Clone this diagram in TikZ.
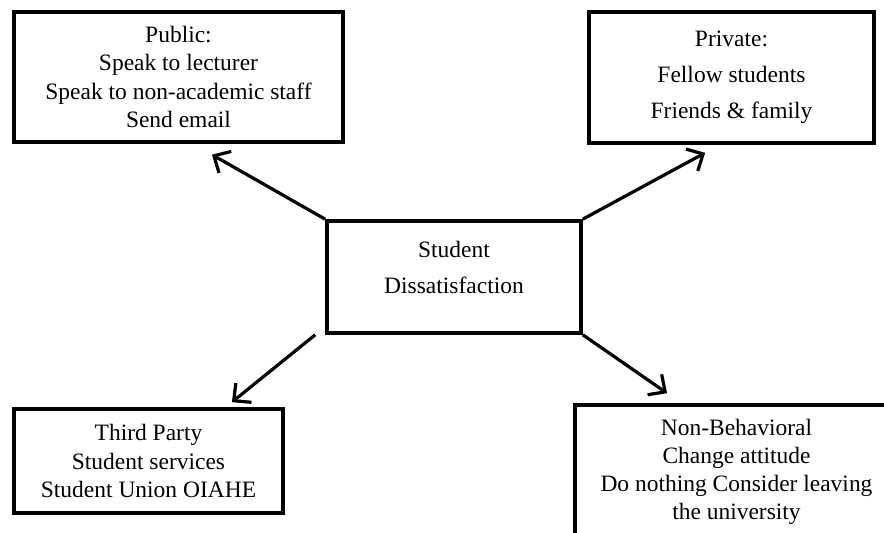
\documentclass[tikz,border=0pt]{standalone}
\usepackage{fontspec}
\setmainfont{Liberation Serif}
\usetikzlibrary{arrows.meta,positioning}

\tikzset{
  box/.style={draw,line width=0.09cm,align=center,inner sep=2pt},
  arr/.style={line width=0.08cm,-{Straight Barb[length=0.32cm,width=0.62cm]}},
}
\newcommand{\tightfont}{\fontsize{16.7}{20}\selectfont}
\newcommand{\loosefont}{\fontsize{16.7}{25.5}\selectfont}

\begin{document}
\begin{tikzpicture}
\useasboundingbox (0,0) rectangle (22.1,13.3);
\clip (0,0) rectangle (22.1,13.3);
\node[box,font=\loosefont,minimum width=6.35cm,minimum height=2.8cm,text depth=0.5cm] (dis) at (11.35,6.375) {Student\\Dissatisfaction};
\node[box,font=\tightfont,minimum width=8.225cm,minimum height=3.25cm] (pub) at (4.4625,11.375) {Public:\\Speak to lecturer\\Speak to non-academic staff\\Send email};
\node[box,font=\loosefont,minimum width=7.125cm,minimum height=3.275cm] (pri) at (18.2875,11.3625) {Private:\\Fellow students\\Friends \& family};
\node[box,font=\tightfont,minimum width=6.725cm,minimum height=2.6cm] (tp) at (3.7125,1.775) {Third Party\\Student services\\Student Union OIAHE};
% runs off the page to the right and below
\node[box,font=\tightfont,minimum width=8.075cm,minimum height=3.35cm] (nb) at (18.4125,1.5) {Non-Behavioral\\Change attitude\\Do nothing Consider leaving\\the university};
% arrows out of the centre box
\draw[arr,shorten >=0.55cm] (dis.north west) -- ([xshift=0.36cm]pub.south);
\draw[arr,shorten >=0.42cm] (dis.north east) -- ([xshift=-0.29cm]pri.south);
\draw[arr,shorten >=0.44cm] (dis.south east) -- ([xshift=-1.375cm]nb.north);
\draw[arr,shorten >=0.2cm] ([xshift=-0.25cm]dis.south west) -- ([xshift=1.93cm]tp.north);
\end{tikzpicture}
\end{document}
